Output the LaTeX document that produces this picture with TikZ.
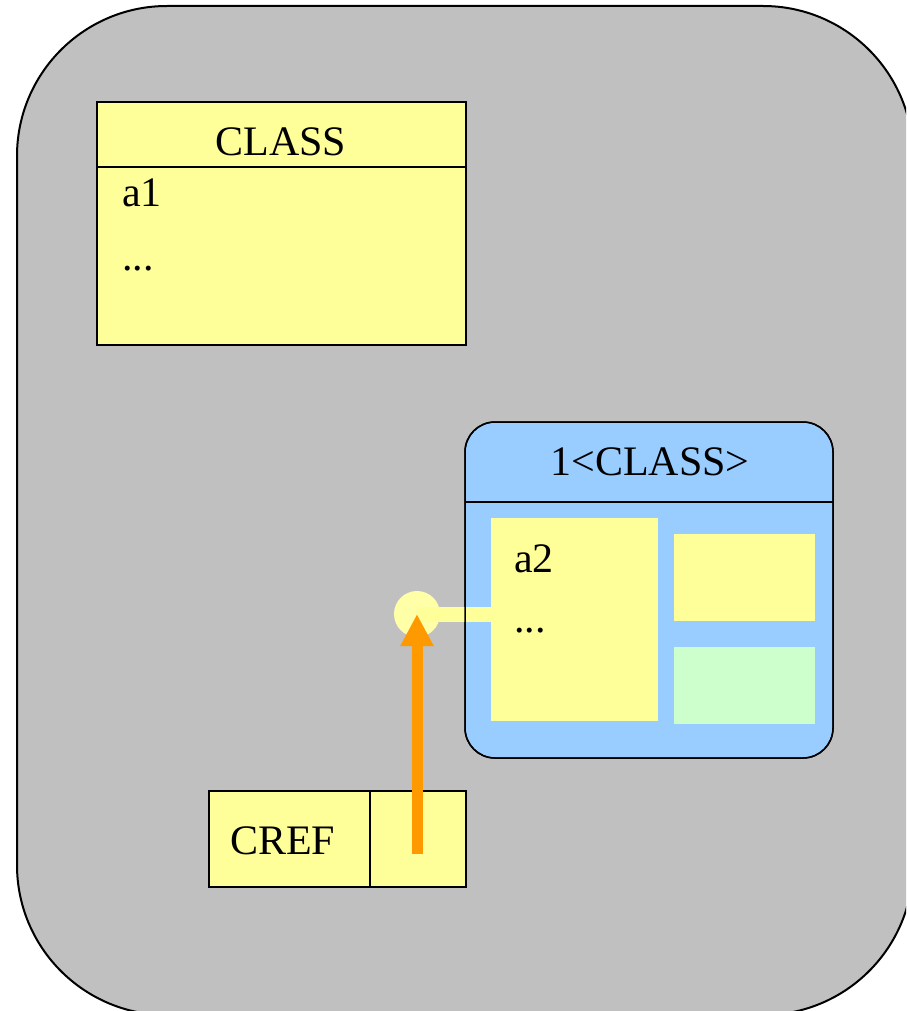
\documentclass[tikz,border=0pt]{standalone}
\usepackage{fontspec}
\setmainfont{Liberation Serif}
\usetikzlibrary{arrows.meta}
\definecolor{panel}{HTML}{C0C0C0}
\definecolor{note}{HTML}{FFFF99}
\definecolor{objblue}{HTML}{99CCFF}
\definecolor{mint}{HTML}{CCFFCC}
\definecolor{refarrow}{HTML}{FF9900}
\definecolor{dotfill}{HTML}{FFFFA8}

\begin{document}
\begin{tikzpicture}[x=1pt,y=-1pt,
  frame/.style={draw=black, line width=2pt, fill=panel, rounded corners=150pt,
    inner sep=0pt, outer sep=0pt, anchor=north west},
  classbox/.style={draw=black, line width=1.5pt, fill=note, inner sep=0pt,
    outer sep=0pt, anchor=north west},
  objbox/.style={draw=black, line width=1.5pt, fill=objblue, rounded corners=30pt,
    inner sep=0pt, outer sep=0pt, anchor=north west},
  slot/.style={inner sep=0pt, outer sep=0pt, anchor=north west},
  divider/.style={draw=black, line width=1.5pt},
  lbl/.style={font=\fontsize{42}{50}\selectfont, inner sep=0pt, outer sep=0pt},
  link/.style={draw=note, line width=15pt},
  refline/.style={draw=refarrow, line width=11pt,
    -{Triangle[length=32pt,width=31pt]}}]
\useasboundingbox (0,0) rectangle (906,1011);
\clip (0,0) rectangle (906,1011);

% enclosing region
\node[frame, minimum width=896pt, minimum height=1009pt] (region) at (17,6) {};

% class CLASS
\node[classbox, minimum width=369pt, minimum height=243pt] (cls) at (97,102) {};
\draw[divider] ([yshift=-65pt]cls.north west) -- ([yshift=-65pt]cls.north east);
\node[lbl, anchor=base] (clsname) at (281,156) {CLASS};
\node[lbl, anchor=base west] (clsa) at (122,207) {a1};
\node[lbl, anchor=base west] (clsdots) at (122,270) {...};

% object 1<CLASS>
\node[objbox, minimum width=368pt, minimum height=336pt] (obj) at (465,422) {};
\draw[divider] ([yshift=-80pt]obj.north west) -- ([yshift=-80pt]obj.north east);
\node[lbl, anchor=base] (objname) at (650,475) {1<CLASS>};
\node[slot, fill=note, minimum width=167pt, minimum height=203pt] (attrs) at (491,518) {};
\node[slot, fill=note, minimum width=141pt, minimum height=87pt] (upper) at (674,534) {};
\node[slot, fill=mint, minimum width=141pt, minimum height=77pt] (lower) at (674,647) {};
\node[lbl, anchor=base west] (obja) at (514,572) {a2};
\node[lbl, anchor=base west] (objdots) at (514,632) {...};

% attachment point and its link into the attributes
\node[circle, fill=dotfill, minimum size=46pt, inner sep=0pt, outer sep=0pt] (dot) at (417,614) {};
\draw[link] (dot.center) -- (dot.center -| attrs.west);
\draw[line width=1.5pt, rounded corners=30pt] (obj.north west) rectangle (obj.south east);

% reference CREF
\node[classbox, minimum width=161pt, minimum height=96pt] (cref) at (209,791) {};
\node[classbox, minimum width=96pt, minimum height=96pt] (crefslot) at (370,791) {};
\node[lbl, anchor=base west] (crefname) at (230,854) {CREF};

\coordinate (refstart) at (417,854);
\draw[refline] (refstart) -- (dot.center);
\end{tikzpicture}
\end{document}
